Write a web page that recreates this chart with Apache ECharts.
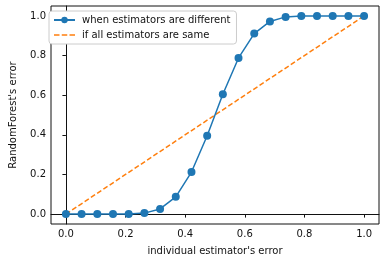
<!DOCTYPE html>
<html><head><meta charset="utf-8">
<script src="https://cdn.jsdelivr.net/npm/echarts@6/dist/echarts.min.js"></script>
<style>html,body{margin:0;padding:0;background:#fff}#c{width:386px;height:262px}</style>
</head><body><div id="c"></div>
<script>
const xs = [0, 0.0526, 0.1053, 0.1579, 0.2105, 0.2632, 0.3158, 0.3684, 0.4211, 0.4737, 0.5263, 0.5789, 0.6316, 0.6842, 0.7368, 0.7895, 0.8421, 0.8947, 0.9474, 1.0];
const ensembleErr = [0, 0, 0, 0, 0, 0.005, 0.026, 0.087, 0.212, 0.395, 0.605, 0.788, 0.911, 0.972, 0.995, 1.0, 1.0, 1.0, 1.0, 1.0];
const sameX = [0, 1];
const sameErr = [0, 1];
const xTicks = [0, 0.2, 0.4, 0.6, 0.8, 1.0];
const yTicks = [0, 0.2, 0.4, 0.6, 0.8, 1.0];
const names = ['when estimators are different', 'if all estimators are same'];

const font = 'DejaVu Sans';
const chart = echarts.init(document.getElementById('c'));
chart.setOption({
  animation: false,
  textStyle: {fontFamily: font},
  grid: {left: 45, right: 7, top: 6, bottom: 38, show: true, borderColor: '#111', borderWidth: 1},
  legend: {
    orient: 'vertical', left: 49, top: 11,
    padding: [4, 6, 4, 4], itemGap: 5, itemWidth: 21, itemHeight: 8,
    backgroundColor: '#fff', borderColor: '#ccc', borderWidth: 1, borderRadius: 3,
    textStyle: {fontFamily: font, fontSize: 10, color: '#111', padding: [0, 0, 0, 2]},
    data: [
      {name: names[0]},
      {name: names[1], icon: 'path://M0,0h5.5v1.6h-5.5zM7.75,0h5.5v1.6h-5.5zM15.5,0h5.5v1.6h-5.5z', itemStyle: {color: '#ff7f0e'}}
    ]
  },
  xAxis: {
    type: 'value', min: -0.05, max: 1.05,
    name: "individual estimator's error", nameLocation: 'middle', nameGap: 22,
    nameTextStyle: {fontFamily: font, fontSize: 10, color: '#111'},
    axisLine: {show: true, lineStyle: {color: '#111'}},
    axisTick: {show: true, length: 3.5, customValues: xTicks, lineStyle: {color: '#111'}},
    axisLabel: {customValues: xTicks, fontSize: 10, color: '#111', margin: 5, formatter: v => v.toFixed(1)},
    splitLine: {show: false}
  },
  yAxis: {
    type: 'value', min: -0.05, max: 1.05,
    name: "RandomForest's error", nameLocation: 'middle', nameGap: 33,
    nameTextStyle: {fontFamily: font, fontSize: 10, color: '#111'},
    axisLine: {show: true, lineStyle: {color: '#111'}},
    axisTick: {show: true, length: 3.5, customValues: yTicks, lineStyle: {color: '#111'}},
    axisLabel: {customValues: yTicks, fontSize: 10, color: '#111', margin: 5, formatter: v => v.toFixed(1)},
    splitLine: {show: false}
  },
  series: [
    {
      name: names[0], type: 'line',
      data: xs.map((x, i) => [x, ensembleErr[i]]),
      symbol: 'circle', symbolSize: 8, showSymbol: true,
      lineStyle: {color: '#1f77b4', width: 1.5},
      itemStyle: {color: '#1f77b4'}, z: 3
    },
    {
      name: names[1], type: 'line',
      data: sameX.map((x, i) => [x, sameErr[i]]),
      symbol: 'none',
      lineStyle: {color: '#ff7f0e', width: 1.5, type: [5, 2.5]},
      itemStyle: {color: '#ff7f0e'}, z: 2
    }
  ]
});
</script></body></html>
